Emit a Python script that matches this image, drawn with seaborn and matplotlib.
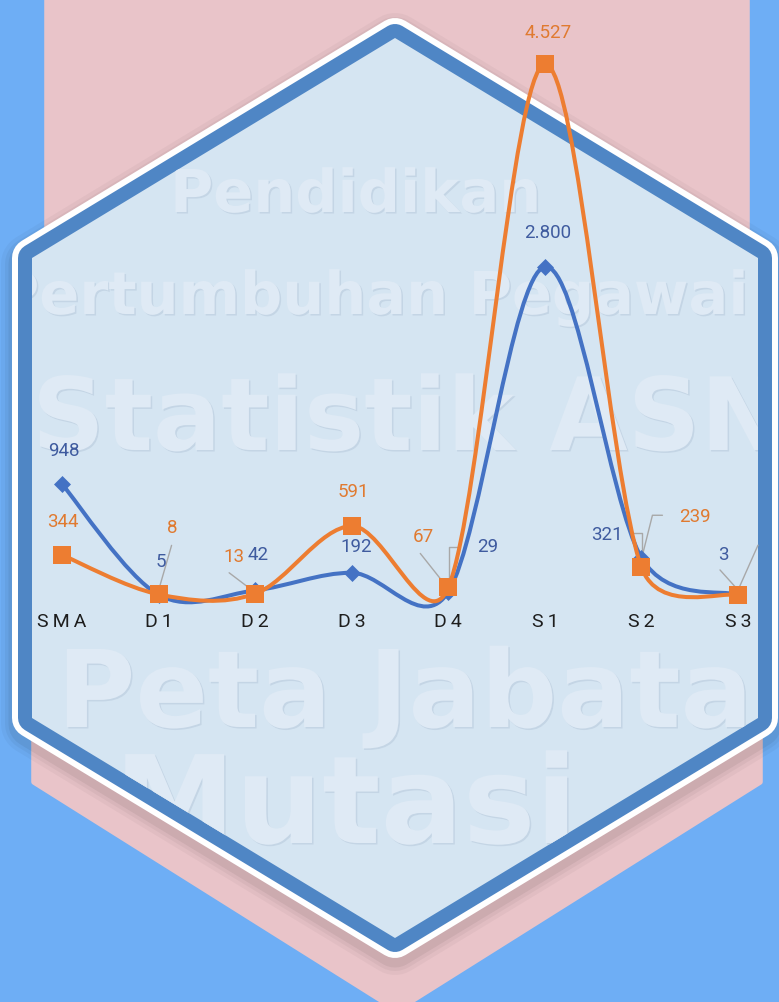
import numpy as np
import pandas as pd
import seaborn as sns
import matplotlib.pyplot as plt
from matplotlib.path import Path
from matplotlib.patches import PathPatch, Polygon
from matplotlib.lines import Line2D
from matplotlib.textpath import TextPath
from matplotlib.font_manager import FontProperties
from matplotlib.transforms import Affine2D, ScaledTranslation

# data
jenjang = ["SMA", "D1", "D2", "D3", "D4", "S1", "S2", "S3"]
nilai_biru = [948, 5, 42, 192, 29, 2800, 321, 3]
nilai_oranye = [344, 8, 13, 591, 67, 4527, 239, 1]

# warna
BG = "#6eaef5"
PINK = "#e9c4c9"
BAND = "#4f86c5"
FILL = "#d5e5f2"
BIRU = "#4472c4"
ORANYE = "#ed7d31"
LBL_BIRU = "#3f5b9f"
LBL_ORANYE = "#e07a30"
GRAY = "#a8a8a8"

W, H = 779, 1002

sns.set_style("white")
plt.rcParams["font.family"] = ["Roboto", "DejaVu Sans"]

fig = plt.figure(figsize=(W / 100, H / 100), dpi=100)
fig.patch.set_facecolor(BG)

# ---- background decoration (pixel coords) ----
bg = fig.add_axes([0, 0, 1, 1])
bg.set_xlim(0, W)
bg.set_ylim(H, 0)
bg.axis("off")

pink = [(47, -5), (747, -5), (747, 420), (760, 420), (760, 782), (397, 1010),
        (34, 782), (34, 420), (47, 420)]
bg.add_patch(Polygon(pink, closed=True, fc=PINK, ec=PINK, lw=4, joinstyle="round"))

hexa = [(395, 38), (758, 258), (758, 718), (395, 938), (32, 718), (32, 258)]
# soft shadow
for w, a in [(62, 0.03), (54, 0.04), (47, 0.055)]:
    bg.add_patch(Polygon([(x, y + 6) for x, y in hexa], closed=True, fill=False,
                         ec="black", lw=w * 0.72, alpha=a, joinstyle="round"))
bg.add_patch(Polygon(hexa, closed=True, fill=False, ec="white", lw=40 * 0.72, joinstyle="round"))
bg.add_patch(Polygon(hexa, closed=True, fill=False, ec=BAND, lw=28 * 0.72, joinstyle="round"))
face = Polygon(hexa, closed=True, fc=FILL, ec="none")
bg.add_patch(face)

# watermark text (size in px)
fp = FontProperties(family="DejaVu Sans", weight="bold")
marks = [("Pendidikan", 170, 212, 59),
         ("Pertumbuhan Pegawai", -4, 314, 59),
         ("Statistik ASN", 32, 450, 101),
         ("Peta Jabatan", 57, 727, 107),
         ("Mutasi", 114, 843, 122)]
for s, x, y, px in marks:
    tp = TextPath((0, 0), s, size=px, prop=fp)
    for dx, dy, col in [(1.5, 1.5, "#c4d5e5"), (0, 0, "#dfeaf5")]:
        tr = Affine2D().scale(1, -1).translate(x + dx, y + dy) + bg.transData
        p = PathPatch(tp, transform=tr, fc=col, ec="none")
        bg.add_patch(p)
        p.set_clip_path(face)

# ---- chart ----
k = 0.1173      # px per unit
y0 = 595.3      # pixel of value 0
step = 96.57    # px per category
ax = fig.add_axes([32 / W, (H - 610) / H, 726 / W, 600 / H])
ax.patch.set_visible(False)
for sp in ax.spines.values():
    sp.set_visible(False)


def kurva(ys):
    # smoothed line like spreadsheet charts: bezier with 1/6 arms,
    # arm limited to half the segment length (measured on screen)
    pts = np.column_stack([np.arange(len(ys), dtype=float), np.asarray(ys, float)])
    scr = pts * np.array([step, k])
    n = len(pts)

    def d(a, b):
        return np.hypot(*(scr[a] - scr[b]))

    verts = [pts[0]]
    codes = [Path.MOVETO]
    for i in range(n - 1):
        i0, i3 = max(i - 1, 0), min(i + 2, n - 1)
        d12 = d(i, i + 1)
        d02, d13 = d(i0, i + 1), d(i, i3)
        f1 = 1 / 6 if d02 / 6 < d12 / 2 else d12 / (2 * d02)
        f2 = 1 / 6 if d13 / 6 < d12 / 2 else d12 / (2 * d13)
        c1 = pts[i] + f1 * (pts[i + 1] - pts[i0])
        c2 = pts[i + 1] - f2 * (pts[i3] - pts[i])
        verts += [c1, c2, pts[i + 1]]
        codes += [Path.CURVE4] * 3
    return Path(verts, codes)


pos = np.arange(len(jenjang))
df = pd.DataFrame({"pos": pos, "biru": nilai_biru, "oranye": nilai_oranye})

ax.add_patch(PathPatch(kurva(df["biru"]), fill=False, ec=BIRU, lw=2.9,
                       capstyle="round", zorder=3, clip_on=False))
sns.scatterplot(data=df, x="pos", y="biru", marker="D", s=75, color=BIRU,
                linewidth=0, ax=ax, zorder=4, clip_on=False)
ax.add_patch(PathPatch(kurva(df["oranye"]), fill=False, ec=ORANYE, lw=2.9,
                       capstyle="round", zorder=5, clip_on=False))
sns.scatterplot(data=df, x="pos", y="oranye", marker="s", s=150, color=ORANYE,
                linewidth=0, ax=ax, zorder=6, clip_on=False)

ax.set_xlim(-30 / step, 7 + 20 / step)
ax.set_ylim(-(610 - y0) / k, (y0 - 10) / k)
ax.set_xlabel("")
ax.set_ylabel("")
ax.set_yticks([])
ax.set_xticks(pos)
ax.set_xticklabels(["\u2009".join(c) for c in jenjang], fontsize=14, color="#1e1e1e")
ax.tick_params(axis="x", length=0, pad=2)


def fmt(v):
    return f"{v:,}".replace(",", ".")


# label offsets in pixels (dx right, dy down) from each marker
off_biru = [(2, -33), (2, -33), (3, -35), (5, -26), (39, -45), (3, -34), (-34, -23), (-15, -40)]
off_oranye = [(1, -33), (14, -66), (-21, -37), (2, -34), (-25, -50), (3, -31), (54, -50), (28, -52)]

for vals, offs, col in [(nilai_biru, off_biru, LBL_BIRU), (nilai_oranye, off_oranye, LBL_ORANYE)]:
    for i, (v, (dx, dy)) in enumerate(zip(vals, offs)):
        t = ax.annotate(fmt(v), (i, v), xytext=(dx, -dy), textcoords="offset pixels",
                        ha="center", va="center", fontsize=13.5, color=col,
                        annotation_clip=False, zorder=7)
        t.set_clip_on(True)
        t.set_clip_box(ax.bbox)

# leader lines (pixel offsets from marker, y down)
leaders = [
    (nilai_oranye, 1, [(0, -4), (13, -49)]),
    (nilai_oranye, 2, [(-1, -2), (-26, -21)]),
    (nilai_oranye, 4, [(-1, 0), (-28, -34)]),
    (nilai_biru, 4, [(1, -2), (1, -45), (12, -45)]),
    (nilai_biru, 6, [(1, 0), (1, -25), (-9, -25)]),
    (nilai_oranye, 6, [(0, -8), (11, -52), (21, -52)]),
    (nilai_biru, 7, [(0, -5), (-18, -25)]),
    (nilai_oranye, 7, [(0, -5), (20, -50)]),
]
for vals, i, pts in leaders:
    tr = Affine2D().scale(1, -1) + ScaledTranslation(i, vals[i], ax.transData)
    xs, ys = zip(*pts)
    ax.add_line(Line2D(xs, ys, transform=tr, color=GRAY, lw=1.0, zorder=2.5, clip_on=False))

fig.savefig("out.png", dpi=100, facecolor=BG)
